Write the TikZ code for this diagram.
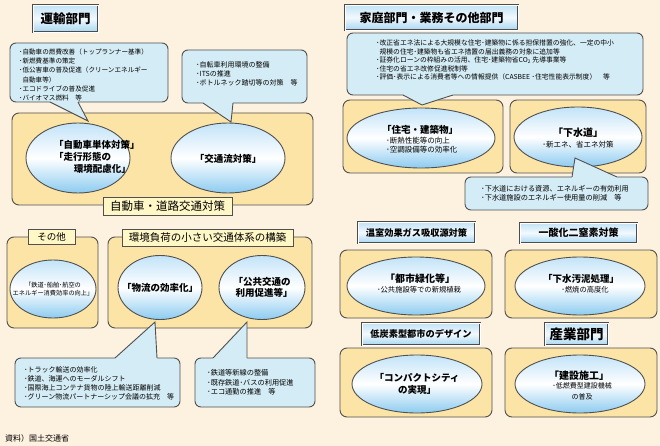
\documentclass[tikz,border=0pt]{standalone}
\usepackage{fontspec}
\setmainfont{Noto Sans CJK JP}
\usetikzlibrary{shapes.geometric}
\definecolor{bg}{HTML}{FDF1E0}
\definecolor{panelfill}{HTML}{FCE3A6}
\definecolor{edge}{HTML}{505050}
\definecolor{callfill}{HTML}{D4ECF5}
\definecolor{elltop}{HTML}{C2E3F8}
\definecolor{ellbot}{HTML}{8CCBF0}
\definecolor{labfill}{HTML}{FFF7C6}
\definecolor{ttop}{HTML}{C2E3F6}
\definecolor{tmid}{HTML}{F2F9FD}
\definecolor{tbot}{HTML}{A8D7F2}
\begin{document}
\begin{tikzpicture}[x=1pt,y=-1pt,
  panel/.style={draw=edge, line width=0.9pt, fill=panelfill, rounded corners=7pt},
  ell/.style={ellipse, draw=edge, line width=0.9pt, top color=elltop, bottom color=ellbot, middle color=white, inner sep=0pt, outer sep=0pt},
  callbox/.style={draw=edge, line width=0.9pt, fill=callfill, rounded corners=6pt},
  tailline/.style={draw=edge, line width=0.9pt},
  titlebox/.style={draw=gray!60!black, double=white, double distance=0.9pt, line width=0.8pt, top color=ttop, bottom color=tbot, middle color=tmid, inner sep=0pt, text=black},
  labbox/.style={draw=edge, line width=0.9pt, fill=labfill, inner sep=0pt, text=black},
  txt/.style={inner sep=0pt, text=black, align=left},
  bigt/.style={inner sep=0pt, text=black, align=center, font=\fontsize{9.5}{12}\selectfont\bfseries},
  subt/.style={inner sep=0pt, text=black, align=center, font=\fontsize{7.3}{9.5}\selectfont}
]
\fill[bg] (0,0) rectangle (660,446);
\useasboundingbox (0,0) rectangle (660,446);

% ---------------- panels ----------------
\draw[panel] (12,113) rectangle (313,205);
\draw[panel] (7,237) rectangle (98,328);
\draw[panel] (108,237) rectangle (312,328);
\draw[panel] (343,100) rectangle (503,173);
\draw[panel] (510,100) rectangle (646,173);
\draw[panel] (340,250) rectangle (492,318);
\draw[panel] (505,250) rectangle (657,318);
\draw[panel] (340,348) rectangle (492,417);
\draw[panel] (505,348) rectangle (657,417);

% ---------------- ellipses ----------------
\node[ell, minimum width=104pt, minimum height=70pt] (e1) at (78,158) {};
\node[ell, minimum width=114pt, minimum height=70pt] (e2) at (228,158) {};
\node[ell, minimum width=86pt, minimum height=58pt] (e3) at (53,289) {};
\node[ell, minimum width=84pt, minimum height=64pt] (e4) at (160,287.5) {};
\node[ell, minimum width=86pt, minimum height=64pt] (e5) at (262,287.5) {};
\node[ell, minimum width=148pt, minimum height=60pt] (e6) at (421,138) {};
\node[ell, minimum width=128pt, minimum height=60pt] (e7) at (578,137) {};
\node[ell, minimum width=138pt, minimum height=58pt] (e8) at (416,286) {};
\node[ell, minimum width=130pt, minimum height=58pt] (e9) at (580,286) {};
\node[ell, minimum width=130pt, minimum height=58pt] (e10) at (417,384) {};
\node[ell, minimum width=130pt, minimum height=58pt] (e11) at (580,384) {};

% ellipse texts
\node[bigt, anchor=west] (e1a) at (54,145) {「自動車単体対策」};
\node[bigt, anchor=west] (e1b) at (54,157) {「走行形態の};
\node[bigt, anchor=east] (e1c) at (131,168.5) {環境配慮化」};
\node[bigt] (e2a) at (228,159) {「交通流対策」};
\node[subt, font=\fontsize{6.2}{8}\selectfont] (e3a) at (53,289) {「鉄道･船舶･航空の\\エネルギー消費効率の向上」};
\node[bigt] (e4a) at (160,288) {「物流の効率化」};
\node[bigt, font=\fontsize{9.5}{11.5}\selectfont\bfseries] (e5a) at (262,287.5) {「公共交通の\\\hspace*{4pt}利用促進等」};
\node[bigt] (e6a) at (420,130) {「住宅・建築物」};
\node[txt, anchor=west, font=\fontsize{7.5}{9.2}\selectfont] (e6b) at (386,145.5) {･断熱性能等の向上\\･空調設備等の効率化};
\node[bigt, font=\fontsize{10}{12}\selectfont\bfseries] (e7a) at (578,133) {「下水道」};
\node[subt, font=\fontsize{7.5}{9}\selectfont] (e7b) at (578,144.5) {･新エネ、省エネ対策};
\node[bigt, font=\fontsize{10}{12}\selectfont\bfseries] (e8a) at (420,279) {「都市緑化等」};
\node[subt] (e8b) at (419,290) {･公共施設等での新規植栽};
\node[bigt] (e9a) at (581,279) {「下水汚泥処理」};
\node[subt] (e9b) at (585,290) {･燃焼の高度化};
\node[bigt, font=\fontsize{9.5}{12}\selectfont\bfseries] (e10a) at (417,384) {「コンパクトシティ\\の実現」};
\node[bigt, font=\fontsize{10}{12}\selectfont\bfseries] (e11a) at (579,376) {「建設施工」};
\node[subt, font=\fontsize{7}{10.5}\selectfont] (e11b) at (582,391.5) {･低燃費型建設機械\\の普及};

% ---------------- title boxes ----------------
\node[titlebox, minimum width=65pt, minimum height=27pt, font=\fontsize{12.5}{14}\selectfont\bfseries] (t1) at (65.5,18.5) {運輸部門};
\node[titlebox, minimum width=173pt, minimum height=25pt, font=\fontsize{12}{14}\selectfont\bfseries] (t2) at (431.5,17.5) {家庭部門・業務その他部門};
\node[titlebox, minimum width=117pt, minimum height=21pt, font=\fontsize{9.2}{11}\selectfont\bfseries] (t3) at (416.5,232.5) {温室効果ガス吸収源対策};
\node[titlebox, minimum width=117pt, minimum height=20pt, font=\fontsize{10}{11}\selectfont\bfseries] (t4) at (578.5,233) {一酸化二窒素対策};
\node[titlebox, minimum width=118pt, minimum height=22pt, font=\fontsize{9.2}{11}\selectfont\bfseries] (t5) at (421,334) {低炭素型都市のデザイン};
\node[titlebox, minimum width=63pt, minimum height=22pt, font=\fontsize{13.5}{15}\selectfont\bfseries] (t6) at (576.5,334) {産業部門};

% ---------------- yellow labels ----------------
\node[labbox, minimum width=129pt, minimum height=18pt, font=\fontsize{11.5}{13}\selectfont] (l1) at (167.5,206) {自動車・道路交通対策};
\node[labbox, minimum width=47pt, minimum height=15pt, font=\fontsize{9.5}{11}\selectfont] (l2) at (51.5,236.5) {その他};
\node[labbox, minimum width=171pt, minimum height=17pt, font=\fontsize{10.5}{12}\selectfont] (l3) at (207.5,237.5) {環境負荷の小さい交通体系の構築};

% ---------------- callouts ----------------
% callout 1
\draw[callbox] (10,43) rectangle (168,102);
\fill[callfill] (50,100) -- (50,102) -- (88,121) -- (78,102) -- (78,100) -- cycle;
\draw[tailline] (50,102) -- (88,121) -- (78,102);
\node[txt, anchor=west, font=\fontsize{6.6}{9.2}\selectfont] (c1) at (19,75)
 {･自動車の燃費改善（トップランナー基準）\\･新燃費基準の策定\\･低公害車の普及促進（クリーンエネルギー\\\hspace*{3.3pt}自動車等）\\･エコドライブの普及促進\\･バイオマス燃料　等};
% callout 2
\draw[callbox] (182,50) rectangle (307,103);
\fill[callfill] (203,101) -- (203,103) -- (231,122) -- (233,103) -- (233,101) -- cycle;
\draw[tailline] (203,103) -- (231,122) -- (233,103);
\node[txt, anchor=west, font=\fontsize{7}{9}\selectfont] (c2) at (196,74)
 {･自転車利用環境の整備\\･ITSの推進\\･ボトルネック踏切等の対策　等};
% callout 3
\draw[callbox] (15,358) rectangle (180,407);
\fill[callfill] (115,360) -- (115,358) -- (155,322) -- (157,358) -- (157,360) -- cycle;
\draw[tailline] (115,358) -- (155,322) -- (157,358);
\node[txt, anchor=west, font=\fontsize{7}{9}\selectfont] (c3) at (24,383.5)
 {･トラック輸送の効率化\\･鉄道、海運へのモーダルシフト\\･国際海上コンテナ貨物の陸上輸送距離削減\\･グリーン物流パートナーシップ会議の拡充　等};
% callout 4
\draw[callbox] (195,358) rectangle (315,407);
\fill[callfill] (213,360) -- (213,358) -- (247,322) -- (247,358) -- (247,360) -- cycle;
\draw[tailline] (213,358) -- (247,322) -- (247,358);
\node[txt, anchor=west, font=\fontsize{7.2}{9.5}\selectfont] (c4) at (207,382.5)
 {･鉄道等新線の整備\\･既存鉄道･バスの利用促進\\･エコ通勤の推進　等};
% callout 5
\draw[callbox] (347,33) rectangle (643,95);
\fill[callfill] (403,93) -- (403,95) -- (422,105) -- (453,95) -- (453,93) -- cycle;
\draw[tailline] (403,95) -- (422,105) -- (453,95);
\node[txt, anchor=west, font=\fontsize{6.8}{8.5}\selectfont] (c5) at (376,60)
 {･改正省エネ法による大規模な住宅･建築物に係る担保措置の強化、一定の中小\\\hspace*{3.4pt}規模の住宅･建築物も省エネ措置の届出義務の対象に追加等\\･証券化ローンの枠組みの活用、住宅･建築物省CO\textsubscript{2} 先導事業等\\･住宅の省エネ改修促進税制等\\･評価･表示による消費者等への情報提供（CASBEE ･住宅性能表示制度）　等};
% callout 6
\draw[callbox] (465,177) rectangle (648,210);
\fill[callfill] (572,179) -- (572,177) -- (575,158) -- (617,177) -- (617,179) -- cycle;
\draw[tailline] (572,177) -- (575,158) -- (617,177);
\node[txt, anchor=west, font=\fontsize{7.2}{9}\selectfont] (c6) at (481,193.5)
 {･下水道における資源、エネルギーの有効利用\\･下水道施設のエネルギー使用量の削減　等};

% source
\node[txt, anchor=west, font=\fontsize{8}{10}\selectfont] (src) at (5,438) {資料）国土交通省};
\end{tikzpicture}
\end{document}
